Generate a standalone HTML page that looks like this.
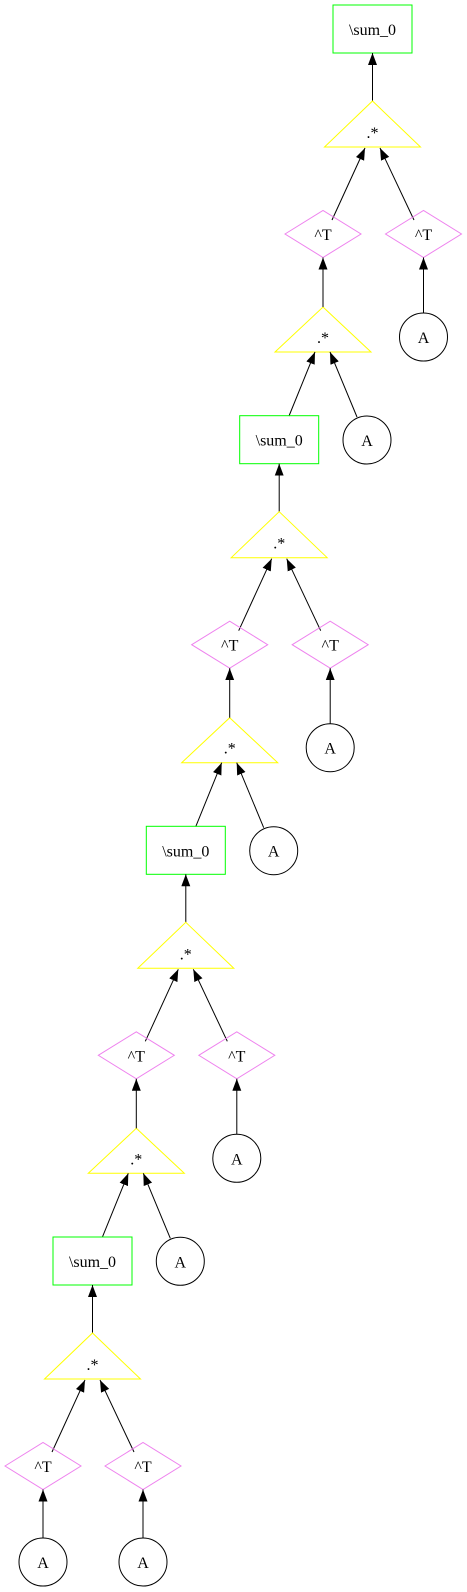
<!DOCTYPE html>
<html><head><meta charset="utf-8">
<style>
html,body{margin:0;padding:0;background:#fff;}
svg{display:block;}
text{font-family:"Liberation Serif",serif;font-size:16px;text-anchor:middle;fill:#000;}
.b{fill:none;stroke:#00ff00;stroke-width:1;}
.t{fill:none;stroke:#ffff00;stroke-width:1;}
.d{fill:none;stroke:#ee82ee;stroke-width:1;}
.c{fill:none;stroke:#000;stroke-width:1;}
.e{stroke:#000;stroke-width:1;marker-end:url(#ah);}
</style></head><body>
<svg width="467" height="1592" viewBox="0 0 467 1592" xmlns="http://www.w3.org/2000/svg">
<defs>
<marker id="ah" markerUnits="userSpaceOnUse" markerWidth="12" markerHeight="10" refX="12" refY="4.5" orient="auto">
<path d="M0,0 L12,4.5 L0,9 z" fill="#000"/>
</marker>
</defs>

<g transform="translate(372.5,5)">
<rect class="b" x="-39.5" y="0" width="79" height="48"/><text x="0" y="30">\sum_0</text>
<line class="e" x1="0" y1="96" x2="0" y2="48"/>
<polygon class="t" points="0,96 48,142 -48,142"/><text x="0" y="133">.*</text>
<line class="e" x1="-40.5" y1="215" x2="-7.5" y2="143"/>
<line class="e" x1="41.5" y1="215" x2="7.5" y2="143"/>
<polygon class="d" points="-87.5,229 -49.5,205.5 -11.5,229 -49.5,252.5"/><text x="-49.5" y="235">^T</text>
<polygon class="d" points="13,229 51,205.5 89,229 51,252.5"/><text x="51" y="235">^T</text>
<circle class="c" cx="51" cy="332" r="24"/><text x="51" y="338">A</text>
<line class="e" x1="51" y1="308" x2="51" y2="252.5"/>
<polygon class="t" points="-49.5,302 -1.5,347 -97.5,347"/><text x="-49.5" y="338">.*</text>
<line class="e" x1="-49.5" y1="302" x2="-49.5" y2="252.5"/>
<line class="e" x1="-83.5" y1="411" x2="-57.5" y2="347"/>
<line class="e" x1="-15.5" y1="412" x2="-42.5" y2="347"/>
<circle class="c" cx="-5.5" cy="435" r="24"/><text x="-5.5" y="441">A</text>
</g>

<g transform="translate(279.2,415.7)">
<rect class="b" x="-39.5" y="0" width="79" height="48"/><text x="0" y="30">\sum_0</text>
<line class="e" x1="0" y1="96" x2="0" y2="48"/>
<polygon class="t" points="0,96 48,142 -48,142"/><text x="0" y="133">.*</text>
<line class="e" x1="-40.5" y1="215" x2="-7.5" y2="143"/>
<line class="e" x1="41.5" y1="215" x2="7.5" y2="143"/>
<polygon class="d" points="-87.5,229 -49.5,205.5 -11.5,229 -49.5,252.5"/><text x="-49.5" y="235">^T</text>
<polygon class="d" points="13,229 51,205.5 89,229 51,252.5"/><text x="51" y="235">^T</text>
<circle class="c" cx="51" cy="332" r="24"/><text x="51" y="338">A</text>
<line class="e" x1="51" y1="308" x2="51" y2="252.5"/>
<polygon class="t" points="-49.5,302 -1.5,347 -97.5,347"/><text x="-49.5" y="338">.*</text>
<line class="e" x1="-49.5" y1="302" x2="-49.5" y2="252.5"/>
<line class="e" x1="-83.5" y1="411" x2="-57.5" y2="347"/>
<line class="e" x1="-15.5" y1="412" x2="-42.5" y2="347"/>
<circle class="c" cx="-5.5" cy="435" r="24"/><text x="-5.5" y="441">A</text>
</g>

<g transform="translate(185.8,826.3)">
<rect class="b" x="-39.5" y="0" width="79" height="48"/><text x="0" y="30">\sum_0</text>
<line class="e" x1="0" y1="96" x2="0" y2="48"/>
<polygon class="t" points="0,96 48,142 -48,142"/><text x="0" y="133">.*</text>
<line class="e" x1="-40.5" y1="215" x2="-7.5" y2="143"/>
<line class="e" x1="41.5" y1="215" x2="7.5" y2="143"/>
<polygon class="d" points="-87.5,229 -49.5,205.5 -11.5,229 -49.5,252.5"/><text x="-49.5" y="235">^T</text>
<polygon class="d" points="13,229 51,205.5 89,229 51,252.5"/><text x="51" y="235">^T</text>
<circle class="c" cx="51" cy="332" r="24"/><text x="51" y="338">A</text>
<line class="e" x1="51" y1="308" x2="51" y2="252.5"/>
<polygon class="t" points="-49.5,302 -1.5,347 -97.5,347"/><text x="-49.5" y="338">.*</text>
<line class="e" x1="-49.5" y1="302" x2="-49.5" y2="252.5"/>
<line class="e" x1="-83.5" y1="411" x2="-57.5" y2="347"/>
<line class="e" x1="-15.5" y1="412" x2="-42.5" y2="347"/>
<circle class="c" cx="-5.5" cy="435" r="24"/><text x="-5.5" y="441">A</text>
</g>

<g transform="translate(92.5,1237)">
<rect class="b" x="-39.5" y="0" width="79" height="48"/><text x="0" y="30">\sum_0</text>
<line class="e" x1="0" y1="96" x2="0" y2="48"/>
<polygon class="t" points="0,96 48,142 -48,142"/><text x="0" y="133">.*</text>
<line class="e" x1="-40.5" y1="215" x2="-7.5" y2="143"/>
<line class="e" x1="41.5" y1="215" x2="7.5" y2="143"/>
<polygon class="d" points="-87.5,229 -49.5,205.5 -11.5,229 -49.5,252.5"/><text x="-49.5" y="235">^T</text>
<polygon class="d" points="12.5,229 50.5,205.5 88.5,229 50.5,252.5"/><text x="50.5" y="235">^T</text>
<circle class="c" cx="-49.5" cy="325" r="24"/><text x="-49.5" y="331">A</text>
<line class="e" x1="-49.5" y1="301" x2="-49.5" y2="252.5"/>
<circle class="c" cx="50.5" cy="325" r="24"/><text x="50.5" y="331">A</text>
<line class="e" x1="50.5" y1="301" x2="50.5" y2="252.5"/>
</g>
</svg>
</body></html>
